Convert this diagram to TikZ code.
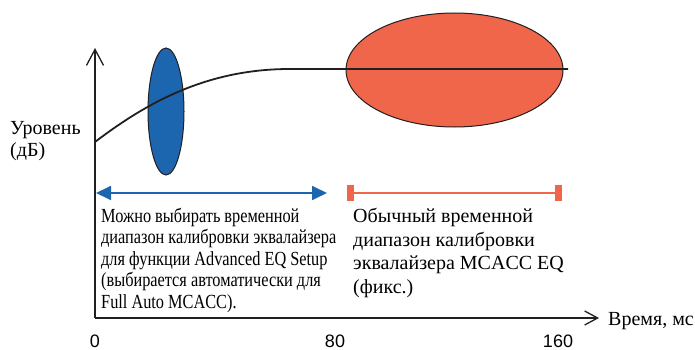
\documentclass[tikz,border=0pt]{standalone}
\usepackage{fontspec}
\setmainfont{Liberation Serif}
\newfontfamily\condserif[FakeStretch=0.815]{Liberation Serif}
\newfontfamily\ticksans{Liberation Sans}
\usetikzlibrary{arrows.meta,shapes.geometric}
\definecolor{eqblue}{HTML}{1C66B0}
\definecolor{eqred}{HTML}{F0664A}
\definecolor{axisgray}{HTML}{231F20}
\tikzset{
  axisline/.style={draw=axisgray, line width=1.3pt},
  txt/.style={inner sep=0pt, anchor=base west, font=\fontsize{20}{23.5}\selectfont},
  condtxt/.style={inner sep=0pt, anchor=base west, font=\condserif\fontsize{20}{21.5}\selectfont, align=left},
  ticklabel/.style={inner sep=0pt, anchor=base, font=\ticksans\fontsize{18}{20}\selectfont},
  capbox/.style={fill=eqred, draw=none, minimum width=7pt, minimum height=16pt, inner sep=0pt},
  blob/.style={draw=axisgray, line width=1pt, ellipse, inner sep=0pt}
}
\begin{document}
\begin{tikzpicture}[x=1pt,y=-1pt]
\useasboundingbox (0,0) rectangle (695,350);
% axes
\coordinate (origin) at (95,318);
\coordinate (ytip) at (95,48);
\coordinate (xtip) at (599,318);
\draw[axisline, -{Straight Barb[length=16pt,width=17pt,line width=1.3pt]}] (origin) -- (ytip);
\draw[axisline, -{Straight Barb[length=13pt,width=14pt,line width=1.3pt]}] (origin) -- (xtip);
% ellipses
\node[blob, fill=eqblue, minimum width=36pt, minimum height=127pt] (blueell) at (166,111.5) {};
\node[blob, fill=eqred, minimum width=217pt, minimum height=114pt] (redell) at (454.5,70) {};
% curve
\coordinate (c0) at (95,142);
\coordinate (c1) at (290,69);
\coordinate (c2) at (568,69);
\draw[axisgray, line width=1.8pt] (c0) .. controls (150,100) and (210,69) .. (c1) -- (c2);
% blue range arrow
\coordinate (bl) at (96,193);
\coordinate (br) at (327,193);
\draw[eqblue, line width=1.8pt, {Triangle[length=15pt,width=14pt]}-{Triangle[length=15pt,width=14pt]}] (bl) -- (br);
% red fixed range
\node[capbox] (capl) at (350.5,193) {};
\node[capbox] (capr) at (558.5,193) {};
\draw[eqred, line width=2.2pt] (capl.center) -- (capr.center);
% texts
\node[txt] (ylab1) at (10,134) {Уровень};
\node[txt] (ylab2) at (10,156) {(дБ)};
\node[condtxt] (lefttxt) at (101,308) {Можно выбирать временной\\диапазон калибровки эквалайзера\\для функции Advanced EQ Setup\\(выбирается автоматически для\\Full Auto MCACC).};
\node[txt, align=left] (righttxt) at (353,293) {Обычный временной\\диапазон калибровки\\эквалайзера MCACC EQ\\(фикс.)};
\node[txt] (xlab) at (608,325) {Время, мс};
\node[ticklabel] (t0) at (95,347) {0};
\node[ticklabel] (t80) at (335,347) {80};
\node[ticklabel] (t160) at (558,347) {160};
\end{tikzpicture}
\end{document}
